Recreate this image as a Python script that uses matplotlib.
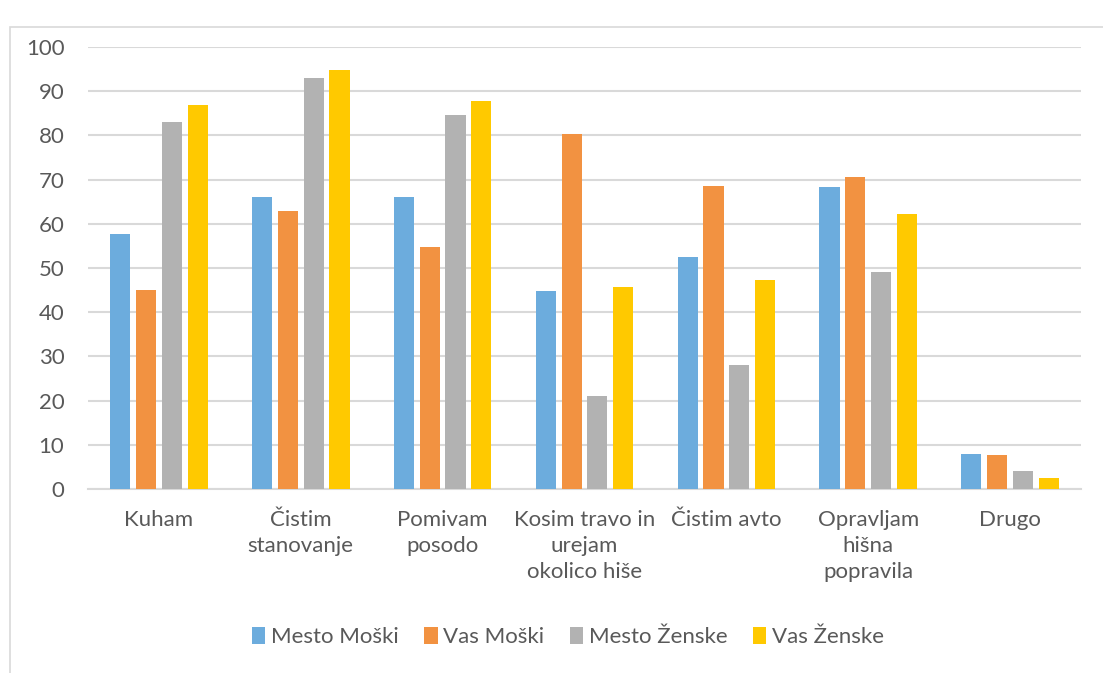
import matplotlib
matplotlib.use("Agg")
import matplotlib.pyplot as plt
import numpy as np
from matplotlib.patches import Rectangle, Patch

categories = ["Kuham", "Čistim\nstanovanje", "Pomivam\nposodo", "Kosim travo in\nurejam\nokolico hiše",
              "Čistim avto", "Opravljam\nhišna\npopravila", "Drugo"]
series_names = ["Mesto Moški", "Vas Moški", "Mesto Ženske", "Vas Ženske"]
mesto_moski = [57.8, 66.0, 66.0, 44.7, 52.6, 68.3, 7.9]
vas_moski = [45.0, 62.9, 54.8, 80.4, 68.5, 70.5, 7.8]
mesto_zenske = [83.0, 93.0, 84.6, 21.1, 28.1, 49.2, 4.1]
vas_zenske = [86.9, 94.8, 87.8, 45.6, 47.3, 62.2, 2.6]
yticks = [0, 10, 20, 30, 40, 50, 60, 70, 80, 90, 100]

colors = ["#6CACDD", "#F29241", "#B2B2B2", "#FFC900"]
text_color = "#595959"
grid_color = "#D9D9D9"

plt.rcParams['font.family'] = ['Lato', 'DejaVu Sans']

fig = plt.figure(figsize=(11.03, 6.73), dpi=100)
W, H = 1103, 673
ax = fig.add_axes([88 / W, (H - 489) / H, (1081 - 88) / W, (489 - 47) / H])

# chart frame
fig.patches.append(Rectangle((10 / W, -0.1), 1.2, (H - 27) / H + 0.1, transform=fig.transFigure,
                             fill=False, edgecolor=grid_color, linewidth=1.2))

x = np.arange(len(categories))
pitch = 0.182
width = 0.142
data = [mesto_moski, vas_moski, mesto_zenske, vas_zenske]
for i, (vals, c, name) in enumerate(zip(data, colors, series_names)):
    ax.bar(x + (i - 1.5) * pitch, vals, width=width, color=c, label=name, zorder=3)

ax.set_xlim(-0.5, len(categories) - 0.5)
ax.set_ylim(0, 100)
ax.set_yticks(yticks)
ax.set_xticks(x)
ax.set_xticklabels(categories, fontsize=16, color=text_color, linespacing=1.38)
ax.tick_params(axis='y', length=0, pad=17, labelsize=16, labelcolor=text_color)
ax.tick_params(axis='x', length=0, pad=15)
for lab in ax.get_yticklabels():
    lab.set_horizontalalignment('right')
ax.grid(axis='y', color=grid_color, linewidth=1.5, zorder=0)
for s in ["top", "right", "left"]:
    ax.spines[s].set_visible(False)
ax.spines["bottom"].set_color(grid_color)
ax.spines["bottom"].set_linewidth(1.5)

handles = [Patch(facecolor=c, label=n) for c, n in zip(colors, series_names)]
leg = fig.legend(handles=handles, loc='center', bbox_to_anchor=(568 / W, (H - 637) / H), ncol=4,
                 frameon=False, fontsize=16, handlelength=0.6, handleheight=0.8,
                 handletextpad=0.25, columnspacing=1.15)
for t in leg.get_texts():
    t.set_color(text_color)

fig.savefig("out.png", dpi=100, facecolor="white")
